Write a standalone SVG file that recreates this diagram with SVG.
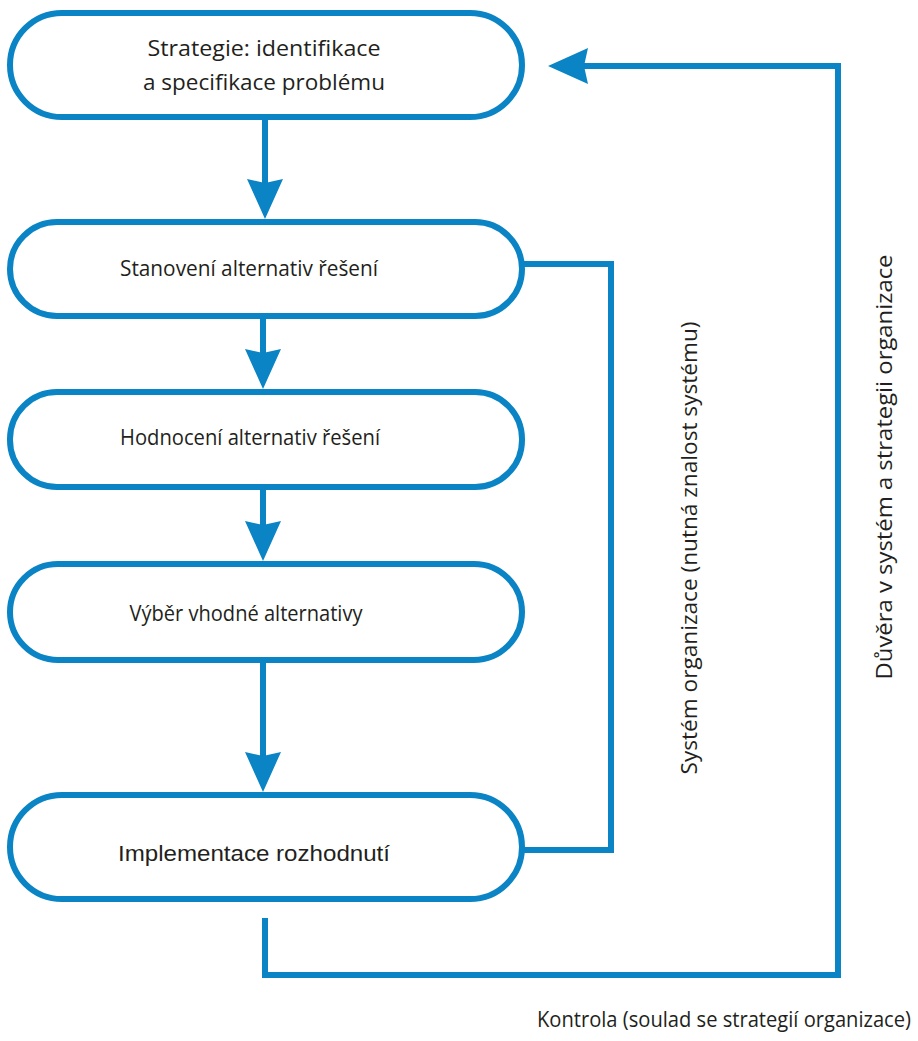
<svg xmlns="http://www.w3.org/2000/svg" width="918" height="1041" viewBox="0 0 918 1041">
<style>
.node{fill:#fff;stroke:#0a84c4;stroke-width:6}
.conn{fill:none;stroke:#0a84c4;stroke-width:6}
.lbl{font-family:"Open Sans","Liberation Sans",sans-serif;font-size:22px;fill:#231f20;text-anchor:middle}
.arial{font-family:"Liberation Sans",Arial,sans-serif}
</style>
<defs>
<marker id="ah" markerUnits="userSpaceOnUse" markerWidth="40" markerHeight="38" refX="30" refY="19" orient="auto">
<path d="M0,1 L40,19 L0,37 L4,19 z" fill="#0a84c4"/>
</marker>
</defs>
<rect width="918" height="1041" fill="#fff"/>
<g id="connectors">
<line class="conn" x1="265" y1="118" x2="265" y2="209" marker-end="url(#ah)"/>
<line class="conn" x1="263" y1="316" x2="263" y2="379" marker-end="url(#ah)"/>
<line class="conn" x1="263" y1="487" x2="263" y2="551" marker-end="url(#ah)"/>
<line class="conn" x1="263" y1="660" x2="263" y2="782" marker-end="url(#ah)"/>
<polyline class="conn" points="523,264 611,264 611,850 524,850"/>
<polyline class="conn" points="265,918 265,975 838,975 838,66 558,66" marker-end="url(#ah)"/>
</g>
<g id="n1">
<rect class="node" x="10" y="13" width="512" height="104" rx="52"/>
<text class="lbl" x="264" y="56" textLength="233" lengthAdjust="spacingAndGlyphs">Strategie: identifikace</text>
<text class="lbl" x="264" y="90" textLength="242" lengthAdjust="spacingAndGlyphs">a specifikace problému</text>
</g>
<g id="n2">
<rect class="node" x="10" y="222" width="512" height="94" rx="47"/>
<text class="lbl" x="249" y="276" textLength="258" lengthAdjust="spacingAndGlyphs">Stanovení alternativ řešení</text>
</g>
<g id="n3">
<rect class="node" x="10" y="392" width="512" height="95" rx="47"/>
<text class="lbl" x="250" y="445" textLength="260" lengthAdjust="spacingAndGlyphs">Hodnocení alternativ řešení</text>
</g>
<g id="n4">
<rect class="node" x="10" y="564" width="512" height="96" rx="48"/>
<text class="lbl" x="246" y="621" textLength="233" lengthAdjust="spacingAndGlyphs">Výběr vhodné alternativy</text>
</g>
<g id="n5">
<rect class="node" x="10" y="795" width="512" height="104" rx="52"/>
<text class="lbl arial" x="254" y="861" font-size="23" textLength="272" lengthAdjust="spacingAndGlyphs">Implementace rozhodnutí</text>
</g>
<g id="labels">
<text class="lbl" transform="translate(697,548) rotate(-90)" font-size="23" textLength="453" lengthAdjust="spacingAndGlyphs">Systém organizace (nutná znalost systému)</text>
<text class="lbl" transform="translate(892,467) rotate(-90)" font-size="23" textLength="425" lengthAdjust="spacingAndGlyphs">Důvěra v systém a strategii organizace</text>
<text class="lbl" x="911" y="1027" font-size="19" text-anchor="end" style="text-anchor:end" textLength="374" lengthAdjust="spacingAndGlyphs">Kontrola (soulad se strategií organizace)</text>
</g>
</svg>
